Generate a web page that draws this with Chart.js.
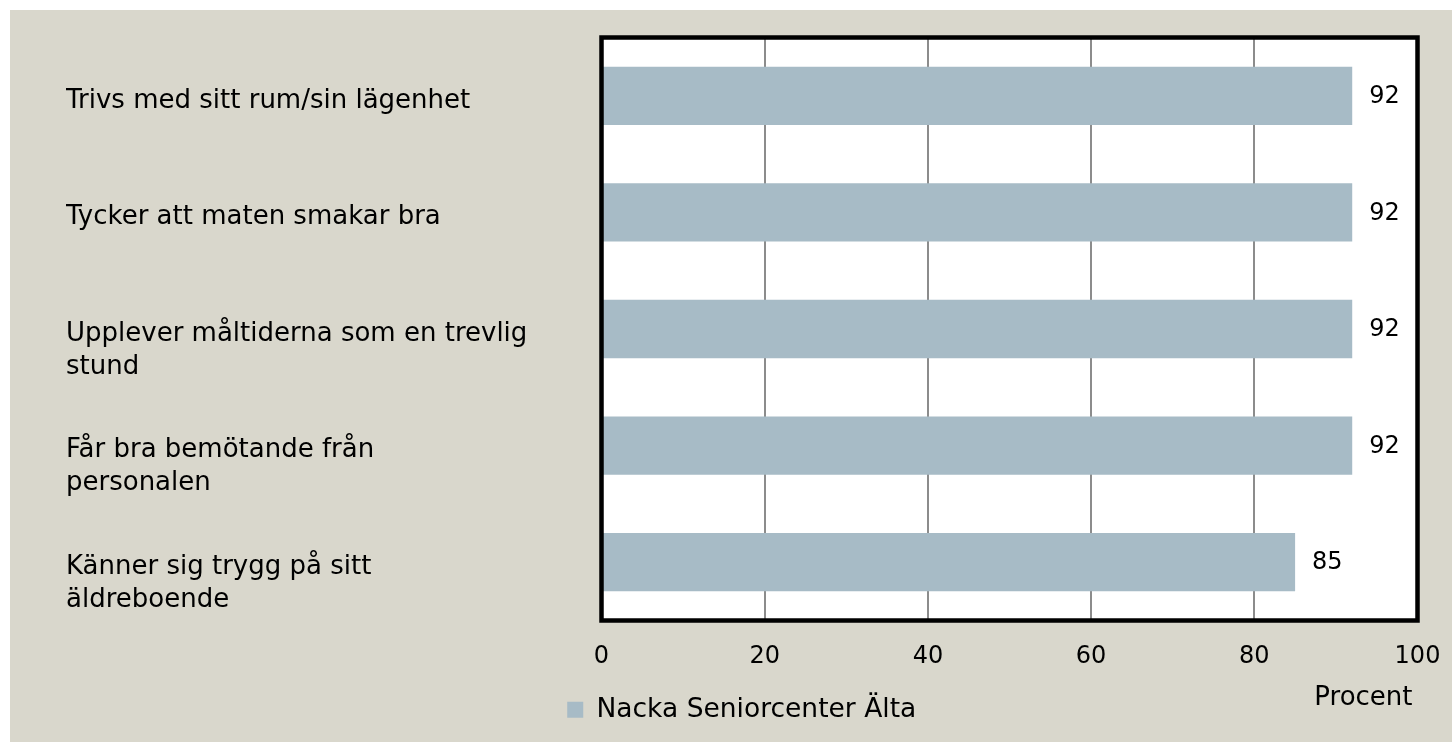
<!DOCTYPE html>
<html>
<head>
<meta charset="utf-8">
<script src="https://cdn.jsdelivr.net/npm/chart.js@4.4.1/dist/chart.umd.min.js"></script>
<style>
  html, body { margin: 0; padding: 0; background: #ffffff; }
  #wrap { position: absolute; left: 0; top: 0; width: 1452px; height: 742px; }
</style>
</head>
<body>
<div id="wrap"><canvas id="c" width="1452" height="742"></canvas></div>
<script>
const categories = [
  ["Trivs med sitt rum/sin lägenhet"],
  ["Tycker att maten smakar bra"],
  ["Upplever måltiderna som en trevlig", "stund"],
  ["Får bra bemötande från", "personalen"],
  ["Känner sig trygg på sitt", "äldreboende"]
];
const seriesName = "Nacka Seniorcenter Älta";
const values = [92, 92, 92, 92, 85];
const xTickValues = [0, 20, 40, 60, 80, 100];
const xAxisTitle = "Procent";

const FONT = "'DejaVu Sans', sans-serif";
const BAR_COLOR = "#a7bbc6";
const BEIGE = "#d9d7cc";

const backgroundPlugin = {
  id: 'bg',
  beforeDraw(chart) {
    const ctx = chart.ctx, a = chart.chartArea;
    ctx.save();
    ctx.fillStyle = "#ffffff";
    ctx.fillRect(0, 0, chart.width, chart.height);
    ctx.fillStyle = BEIGE;
    ctx.fillRect(10, 10, chart.width - 10, chart.height - 10);
    ctx.fillStyle = "#ffffff";
    ctx.fillRect(a.left, a.top, a.right - a.left, a.bottom - a.top);
    ctx.restore();
  }
};

const framePlugin = {
  id: 'frame',
  afterDatasetsDraw(chart) {
    const ctx = chart.ctx, a = chart.chartArea;
    ctx.save();
    ctx.strokeStyle = "#000000";
    ctx.lineWidth = 4.5;
    ctx.strokeRect(a.left, a.top, a.right - a.left, a.bottom - a.top);
    // value labels
    const meta = chart.getDatasetMeta(0);
    ctx.fillStyle = "#000000";
    ctx.font = "24px " + FONT;
    ctx.textAlign = "left";
    ctx.textBaseline = "middle";
    meta.data.forEach((bar, i) => {
      ctx.fillText(String(chart.data.datasets[0].data[i]), bar.x + 17, bar.y + 1);
    });
    // axis title
    ctx.font = "26px " + FONT;
    ctx.textAlign = "right";
    ctx.fillText(xAxisTitle, a.right - 5, 698);
    ctx.restore();
  }
};

new Chart(document.getElementById('c'), {
  type: 'bar',
  data: {
    labels: categories,
    datasets: [{
      label: seriesName,
      data: values,
      backgroundColor: BAR_COLOR,
      borderWidth: 0,
      barPercentage: 0.5,
      categoryPercentage: 1.0
    }]
  },
  options: {
    indexAxis: 'y',
    responsive: false,
    animation: false,
    devicePixelRatio: 1,
    layout: { padding: { left: 66, top: 37.5, right: 34.5, bottom: 9 } },
    plugins: {
      legend: {
        position: 'bottom',
        align: 'center',
        labels: {
          color: "#000000",
          font: { family: FONT, size: 26.5 },
          boxWidth: 16,
          boxHeight: 16,
          padding: 10
        }
      },
      tooltip: { enabled: false }
    },
    scales: {
      x: {
        min: 0,
        max: 100,
        afterBuildTicks(scale) { scale.ticks = xTickValues.map(v => ({ value: v })); },
        afterFit(scale) { scale.height = 66; scale.paddingLeft = 0; scale.paddingRight = 0; },
        grid: { color: "#8c8c8c", lineWidth: 2, drawTicks: false },
        border: { display: false },
        ticks: { color: "#000000", font: { family: FONT, size: 24 }, padding: 22, maxRotation: 0 }
      },
      y: {
        afterFit(scale) { scale.width = 535.5; scale.paddingTop = 0; scale.paddingBottom = 0; },
        grid: { display: false, drawTicks: false },
        border: { display: false },
        ticks: {
          color: "#000000",
          crossAlign: 'far',
          padding: 0,
          labelOffset: 5,
          font: { family: FONT, size: 26, lineHeight: 1.27 },
          callback(value, index) {
            const lines = categories[index];
            return lines.length > 1 ? [""].concat(lines) : lines;
          }
        }
      }
    }
  },
  plugins: [backgroundPlugin, framePlugin]
});
</script>
</body>
</html>
